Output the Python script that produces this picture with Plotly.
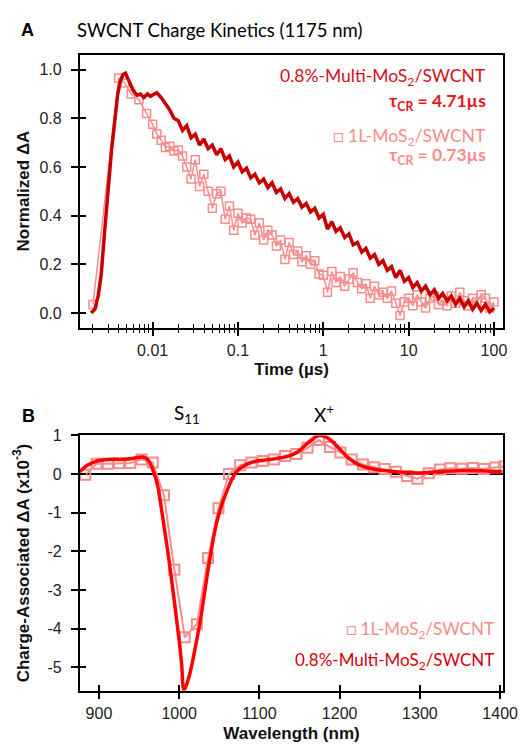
import plotly.graph_objs as go

# ---- panel A: charge kinetics at 1175 nm (time in µs, normalized dA) ----
t_multi = [0.0019, 0.0021, 0.0023, 0.0025, 0.0027, 0.0029, 0.0031, 0.0033, 0.0035, 0.0037,
           0.0039, 0.0042, 0.0045, 0.0048, 0.0051, 0.0055, 0.0060, 0.0066, 0.0072, 0.0079,
           0.0087, 0.0094,
           0.0100, 0.0112, 0.0126, 0.0141, 0.0158, 0.0178, 0.0200, 0.0224, 0.0251, 0.0282,
           0.0316, 0.0355, 0.0398, 0.0447, 0.0501, 0.0562, 0.0631, 0.0708, 0.0794, 0.0891,
           0.100, 0.112, 0.126, 0.141, 0.158, 0.178, 0.200, 0.224, 0.251, 0.282,
           0.316, 0.355, 0.398, 0.447, 0.501, 0.562, 0.631, 0.708, 0.794, 0.891,
           1.00, 1.12, 1.26, 1.41, 1.58, 1.78, 2.00, 2.24, 2.51, 2.82,
           3.16, 3.55, 3.98, 4.47, 5.01, 5.62, 6.31, 7.08, 7.94, 8.91,
           10.0, 11.2, 12.6, 14.1, 15.8, 17.8, 20.0, 22.4, 25.1, 28.2,
           31.6, 35.5, 39.8, 44.7, 50.1, 56.2, 63.1, 70.8, 79.4, 89.1,
           100.0]
a_multi = [0.0, 0.015, 0.07, 0.16, 0.31, 0.45, 0.57, 0.67, 0.75, 0.83,
           0.90, 0.955, 0.98, 0.985, 0.965, 0.935, 0.91, 0.895, 0.90, 0.885,
           0.90, 0.89,
           0.895, 0.905, 0.885, 0.86, 0.835, 0.80, 0.79, 0.75, 0.77, 0.72,
           0.735, 0.69, 0.715, 0.675, 0.69, 0.65, 0.675, 0.63, 0.645, 0.60,
           0.62, 0.58, 0.595, 0.555, 0.57, 0.535, 0.55, 0.515, 0.535, 0.495,
           0.51, 0.47, 0.49, 0.455, 0.47, 0.435, 0.45, 0.415, 0.43, 0.39,
           0.405, 0.345, 0.375, 0.335, 0.35, 0.31, 0.325, 0.28, 0.29, 0.25,
           0.265, 0.225, 0.24, 0.20, 0.215, 0.175, 0.19, 0.145, 0.175, 0.13,
           0.145, 0.105, 0.125, 0.09, 0.11, 0.075, 0.095, 0.06, 0.08, 0.05,
           0.07, 0.035, 0.06, 0.025, 0.05, 0.015, 0.04, 0.01, 0.035, 0.005,
           0.02]

t_1l = [0.0020, 0.0040, 0.0047, 0.0056, 0.0069, 0.0085,
        0.0100, 0.0112, 0.0126, 0.0141, 0.0158, 0.0178, 0.0200, 0.0224, 0.0251, 0.0282,
        0.0316, 0.0355, 0.0398, 0.0447, 0.0501, 0.0562, 0.0631, 0.0708, 0.0794, 0.0891,
        0.100, 0.112, 0.126, 0.141, 0.158, 0.178, 0.200, 0.224, 0.251, 0.282,
        0.316, 0.355, 0.398, 0.447, 0.501, 0.562, 0.631, 0.708, 0.794, 0.891,
        1.00, 1.12, 1.26, 1.41, 1.58, 1.78, 2.00, 2.24, 2.51, 2.82,
        3.16, 3.55, 3.98, 4.47, 5.01, 5.62, 6.31, 7.08, 7.94, 8.91,
        10.0, 11.2, 12.6, 14.1, 15.8, 17.8, 20.0, 22.4, 25.1, 28.2,
        31.6, 35.5, 39.8, 44.7, 50.1, 56.2, 63.1, 70.8, 79.4, 89.1,
        100.0]
a_1l = [0.035, 0.965, 0.945, 0.90, 0.876, 0.82,
        0.775, 0.735, 0.71, 0.68, 0.685, 0.665, 0.67, 0.645, 0.60, 0.55,
        0.63, 0.52, 0.57, 0.50, 0.43, 0.49, 0.50, 0.385, 0.44, 0.34,
        0.41, 0.37, 0.39, 0.385, 0.32, 0.37, 0.30, 0.34, 0.32, 0.275,
        0.30, 0.22, 0.29, 0.24, 0.255, 0.21, 0.235, 0.20, 0.215, 0.16,
        0.155, 0.085, 0.17, 0.125, 0.15, 0.11, 0.14, 0.165, 0.125, 0.10,
        0.12, 0.06, 0.11, 0.075, 0.085, 0.06, 0.09, 0.04, -0.01, 0.045,
        0.06, 0.03, 0.075, 0.045, 0.02, 0.06, 0.07, 0.035, 0.05, 0.03,
        0.07, 0.04, 0.085, 0.05, 0.03, 0.06, 0.045, 0.075, 0.06, 0.02,
        0.045]

time_ticks = [0.01, 0.1, 1, 10, 100]
time_labels = ["0.01", "0.1", "1", "10", "100"]
norm_ticks = [0.0, 0.2, 0.4, 0.6, 0.8, 1.0]
norm_labels = ["0.0", "0.2", "0.4", "0.6", "0.8", "1.0"]

# ---- panel B: charge-associated spectra (x10^-3) ----
wl_1l = [883, 897, 911, 925, 939, 953, 967, 981, 994, 1007,
         1022, 1036, 1049, 1062, 1076, 1090, 1104, 1118, 1132, 1146,
         1160, 1174, 1188, 1201, 1215, 1229, 1243, 1256, 1270, 1284,
         1297, 1311, 1325, 1338, 1352, 1366, 1380, 1394, 1405]
da_1l = [-0.02, 0.27, 0.27, 0.28, 0.29, 0.38, 0.30, -0.55, -2.47, -4.22,
         -3.88, -2.17, -0.88, 0.0, 0.23, 0.30, 0.34, 0.38, 0.47, 0.52,
         0.68, 0.88, 0.70, 0.56, 0.38, 0.25, 0.18, 0.13, 0.06, -0.05,
         -0.12, 0.02, 0.12, 0.15, 0.14, 0.16, 0.13, 0.17, 0.20]

wl_multi = [876, 885, 898, 913, 925, 937, 948, 955, 961, 965,
            969, 973, 979, 987, 995, 1000, 1003, 1006, 1010, 1014,
            1019, 1027, 1037, 1047, 1059, 1071, 1083, 1093, 1105, 1120,
            1135, 1148, 1160, 1170, 1176, 1182, 1190, 1200, 1212, 1224,
            1240, 1261, 1281, 1301, 1321, 1341, 1361, 1381, 1402]
da_multi = [0.06, 0.22, 0.34, 0.38, 0.38, 0.39, 0.43, 0.44, 0.37, 0.22,
            0.0, -0.28, -1.05, -2.18, -3.46, -4.3, -4.9, -5.58, -5.4, -5.1,
            -4.6, -3.7, -2.35, -1.23, -0.46, 0.05, 0.24, 0.32, 0.36, 0.40,
            0.46, 0.58, 0.80, 0.96, 1.0, 0.97, 0.86, 0.65, 0.40, 0.24,
            0.14, 0.08, 0.04, 0.03, 0.06, 0.08, 0.09, 0.08, 0.06]

wl_ticks = [900, 1000, 1100, 1200, 1300, 1400]
da_ticks = [1, 0, -1, -2, -3, -4, -5]
da_labels = ["1", "0", "-1", "-2", "-3", "-4", "-5"]

DARK = "rgb(200,0,0)"
RED = "rgb(255,0,0)"
PINK = "rgb(247,140,140)"
ARIAL = "Liberation Sans, Arial"
CAL = "Lato"

minor_time = [m * 10 ** e for e in range(-3, 2) for m in range(2, 10)]

fig = go.Figure()

fig.add_trace(go.Scatter(x=t_1l, y=a_1l, mode="lines+markers", name="1L",
                         line=dict(color=PINK, width=1.5),
                         marker=dict(symbol="square-open", size=8, color=PINK, line=dict(width=1.5, color=PINK))))
fig.add_trace(go.Scatter(x=t_multi, y=a_multi, mode="lines", name="multi",
                         line=dict(color=DARK, width=3.5)))
# invisible copy on the overlay axes so their inner (crossing) ticks get drawn
fig.add_trace(go.Scatter(x=t_multi[:1], y=a_multi[:1], xaxis="x3", yaxis="y3", mode="markers",
                         marker=dict(opacity=0), hoverinfo="skip"))

fig.add_trace(go.Scatter(x=wl_1l, y=da_1l, mode="lines+markers", xaxis="x2", yaxis="y2",
                         line=dict(color=PINK, width=2),
                         marker=dict(symbol="square-open", size=10, color=PINK, line=dict(width=2, color=PINK))))
fig.add_trace(go.Scatter(x=wl_multi, y=da_multi, mode="lines", xaxis="x2", yaxis="y2",
                         line=dict(color=RED, width=3.5, shape="spline")))
fig.add_trace(go.Scatter(x=wl_multi[:1], y=da_multi[:1], xaxis="x4", yaxis="y4", mode="markers",
                         marker=dict(opacity=0), hoverinfo="skip"))

xd = [82 / 530, 518 / 530]
yd_a = [1 - 323 / 755, 1 - 47 / 755]
yd_b = [1 - 690 / 755, 1 - 432 / 755]
tickfont = dict(family=ARIAL, size=16, color="#222")
titlefont = dict(family=ARIAL, size=17, color="#111")
common = dict(showline=True, mirror=True, linecolor="black", linewidth=1.5,
              ticks="outside", ticklen=7, tickwidth=1.5, tickcolor="black",
              showgrid=False, zeroline=False, tickfont=tickfont)
inner = dict(showline=False, ticks="inside", ticklen=6, tickwidth=1.5, tickcolor="black",
             showgrid=False, zeroline=False, showticklabels=False)

fig.update_layout(
    width=530, height=755, autosize=False,
    margin=dict(l=0, r=0, t=0, b=0),
    paper_bgcolor="white", plot_bgcolor="rgba(0,0,0,0)",
    showlegend=False,
    xaxis=dict(domain=xd, anchor="y", type="log", range=[-2.855, 2.11],
               tickvals=time_ticks, ticktext=time_labels,
               minor=dict(ticks="outside", ticklen=4, tickwidth=1, tickcolor="black", tickvals=minor_time),
               title=dict(text="<b>Time (µs)</b>", font=titlefont, standoff=6), **common),
    yaxis=dict(domain=yd_a, anchor="x", range=[-0.06, 1.062],
               tickvals=norm_ticks, ticktext=norm_labels, ticklabelstandoff=6,
               title=dict(text="<b>Normalized ΔA</b>", font=titlefont, standoff=6), **common),
    xaxis3=dict(overlaying="x", anchor="y", type="log", range=[-2.855, 2.11], tickvals=time_ticks,
                minor=dict(ticks="inside", ticklen=4, tickwidth=1, tickcolor="black", tickvals=minor_time),
                **inner),
    yaxis3=dict(overlaying="y", anchor="x", range=[-0.06, 1.062], tickvals=norm_ticks, **inner),
    xaxis2=dict(domain=xd, anchor="y2", range=[876, 1404], tickvals=wl_ticks,
                title=dict(text="<b>Wavelength (nm)</b>", font=titlefont, standoff=6), **common),
    yaxis2=dict(domain=yd_b, anchor="x2", range=[-5.6, 1.0],
                tickvals=da_ticks, ticktext=da_labels, ticklabelstandoff=6,
                title=dict(text="<b>Charge-Associated ΔA (x10<sup>-3</sup>)</b>", font=titlefont, standoff=14),
                **{**common, "zeroline": True}, zerolinecolor="black", zerolinewidth=1.5),
    xaxis4=dict(overlaying="x2", anchor="y2", range=[876, 1404], tickvals=wl_ticks, **inner),
    yaxis4=dict(overlaying="y2", anchor="x2", range=[-5.6, 1.0], tickvals=da_ticks, **inner),
)

def note(text, x, y, color="black", size=18, family=CAL, xanchor="center"):
    fig.add_annotation(text=text, x=x / 530, y=1 - y / 755, xref="paper", yref="paper",
                       xanchor=xanchor, yanchor="middle", showarrow=False,
                       font=dict(family=family, size=size, color=color))

note("<b>A</b>", 28, 22, size=18, family=ARIAL)
note("SWCNT Charge Kinetics (1175 nm)", 77, 22, size=18.5, xanchor="left")
note("0.8%-Multi-MoS<sub>2</sub>/SWCNT", 502, 70, color="rgb(210,15,25)", size=17.5, xanchor="right")
note("<b>τ<sub>CR</sub> = 4.71µs</b>", 502, 95, color="rgb(232,20,30)", size=17.5, xanchor="right")
note("□ 1L-MoS<sub>2</sub>/SWCNT", 502, 130, color=PINK, size=17.5, xanchor="right")
note("<b>τ<sub>CR</sub> = 0.73µs</b>", 502, 150, color=PINK, size=17.5, xanchor="right")

note("<b>B</b>", 29, 412, size=18, family=ARIAL)
note("S<sub>11</sub>", 192, 410, size=19)
note("X<sup>+</sup>", 333, 410, size=19)
note("□ 1L-MoS<sub>2</sub>/SWCNT", 510, 629, color=PINK, size=17, xanchor="right")
note("0.8%-Multi-MoS<sub>2</sub>/SWCNT", 510, 660, color="rgb(215,0,10)", size=17, xanchor="right")

fig.write_html("out.html", config={"displayModeBar": False})

# drop the default page margin so the figure sits at the window origin
with open("out.html", encoding="utf-8") as f:
    page = f.read()
page = page.replace("<body>", '<body style="margin:0">', 1)
with open("out.html", "w", encoding="utf-8") as f:
    f.write(page)
